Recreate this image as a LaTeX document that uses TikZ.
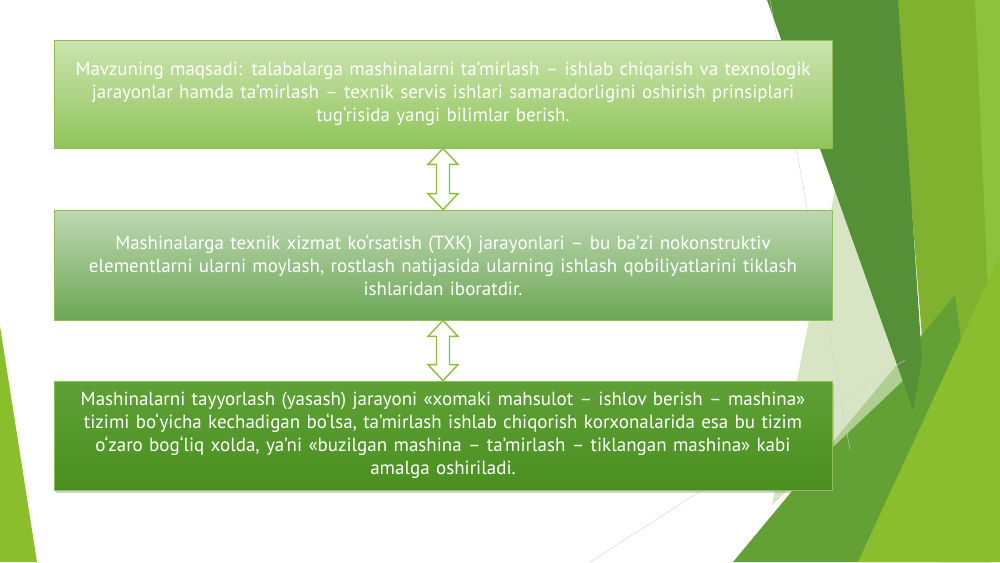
\documentclass[tikz,border=0pt]{standalone}
\usepackage{fontspec}
\setmainfont{PT Sans}
\usepackage{xcolor}
\usepackage{tikz}
\usetikzlibrary{shapes,arrows,positioning,calc,shadows}

\definecolor{boxline}{HTML}{8CC152}
\definecolor{arrline}{HTML}{8DBE3E}
\definecolor{bgband}{HTML}{80B22F}
\definecolor{bgedge}{HTML}{8CC23C}
\definecolor{bgdark}{HTML}{558F36}
\definecolor{bgpale}{HTML}{CBDDB2}
\definecolor{bgmid}{HTML}{63A135}
\definecolor{bglime}{HTML}{8BBE2D}

\begin{document}
\begin{tikzpicture}[x=1pt, y=-1pt,
    tbox/.style={rectangle, draw=boxline, line width=0.8pt, minimum width=778pt, text width=770pt, align=center, inner sep=0pt, text=white, font=\fontsize{19}{23}\selectfont},
    darr/.style={draw=arrline, fill=white, line width=1.4pt, line join=miter}]

    % page and background shapes
    \useasboundingbox (0,0) rectangle (1000,562);
    \fill[white] (0,0) rectangle (1000,562);
    \fill[bgband] (895,0) -- (1000,0) -- (1000,562) -- (940,562) -- cycle;
    \fill[bgedge] (975,0) -- (1000,0) -- (1000,562) -- cycle;
    \fill[bgmid] (733,562) -- (955,295) -- (990,562) -- cycle;
    \fill[bgpale, opacity=0.75] (836,185) -- (912,372) -- (772,505) -- cycle;
    \fill[bgdark] (767,0) -- (898,0) -- (922,360) -- (913,410) -- (896,362) -- cycle;
    \fill[bglime] (858,562) -- (1000,255) -- (1000,562) -- cycle;
    \fill[bglime] (0,326) -- (37,562) -- (0,562) -- cycle;
    \draw[gray!35, line width=0.4pt] (770,0) -- (850,450);
    \draw[gray!35, line width=0.4pt] (590,562) -- (905,360);

    % boxes
    \node[tbox, minimum height=108pt, top color={rgb,255:red,204;green,228;blue,176}, bottom color={rgb,255:red,143;green,196;blue,90}] (b1) at (443,94) {Mavzuning maqsadi: talabalarga mashinalarni ta’mirlash – ishlab chiqarish va texnologik\\ jarayonlar hamda ta’mirlash – texnik servis ishlari samaradorligini oshirish prinsiplari\\ tug‘risida yangi bilimlar berish.};
    \node[tbox, minimum height=110pt, top color={rgb,255:red,190;green,216;blue,178}, bottom color={rgb,255:red,108;green,167;blue,86}] (b2) at (443,265) {Mashinalarga texnik xizmat ko‘rsatish (TXK) jarayonlari – bu ba’zi nokonstruktiv\\ elementlarni ularni moylash, rostlash natijasida ularning ishlash qobiliyatlarini tiklash\\ ishlaridan iboratdir.};
    \node[tbox, minimum height=109pt, top color={rgb,255:red,94;green,160;blue,54}, bottom color={rgb,255:red,74;green,144;blue,32}, drop shadow={shadow xshift=2pt, shadow yshift=-3pt, opacity=0.35}] (b3) at (443,435.5) {Mashinalarni tayyorlash (yasash) jarayoni «xomaki mahsulot – ishlov berish – mashina»\\ tizimi bo‘yicha kechadigan bo‘lsa, ta’mirlash ishlab chiqorish korxonalarida esa bu tizim\\ o‘zaro bog‘liq xolda, ya’ni «buzilgan mashina – ta’mirlash – tiklangan mashina» kabi\\ amalga oshiriladi.};

    % double arrows between the boxes
    \draw[darr] (b1.south) -- ++(15,16) -| ($(b2.north)+(6.5,-16)$) -- ++(8.5,0) -- (b2.north)
        -- ++(-15,-16) -| ($(b1.south)+(-6.5,16)$) -- ++(-8.5,0) -- cycle;
    \draw[darr] (b2.south) -- ++(15,16) -| ($(b3.north)+(6.5,-16)$) -- ++(8.5,0) -- (b3.north)
        -- ++(-15,-16) -| ($(b2.south)+(-6.5,16)$) -- ++(-8.5,0) -- cycle;

\end{tikzpicture}
\end{document}
